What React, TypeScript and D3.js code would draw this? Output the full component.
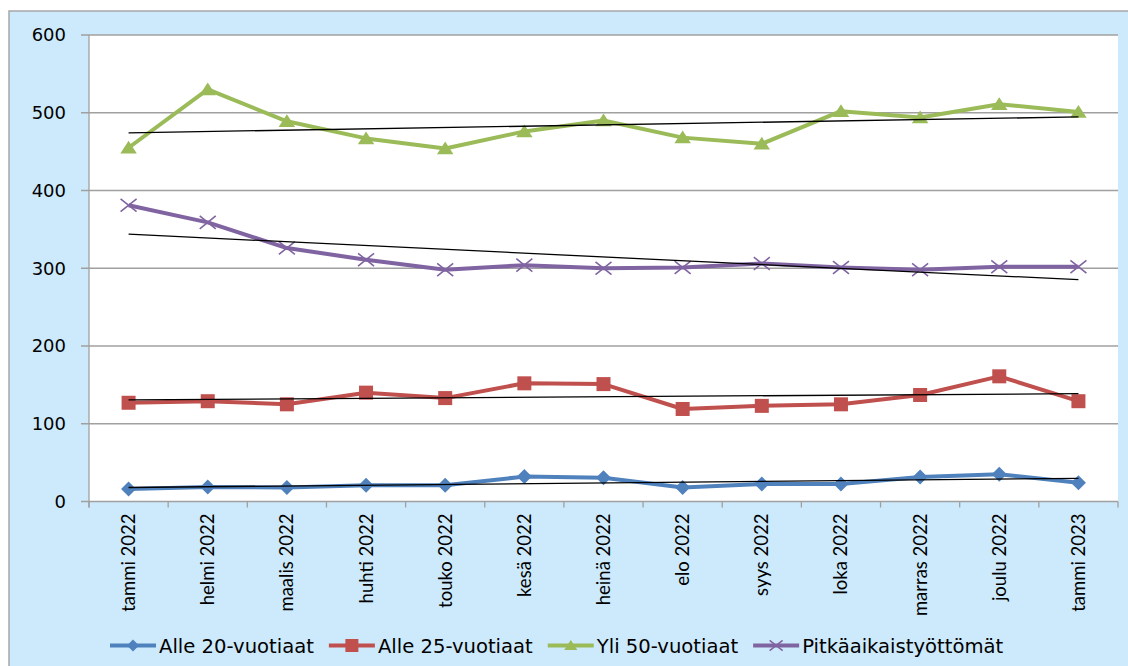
import React, { useEffect, useRef } from "react";
import * as d3 from "d3";

const months = [
  "tammi 2022", "helmi 2022", "maalis 2022", "huhti 2022", "touko 2022", "kesä 2022",
  "heinä 2022", "elo 2022", "syys 2022", "loka 2022", "marras 2022", "joulu 2022", "tammi 2023",
];
const alle20 = [16, 18.5, 18, 21, 21, 32, 30.5, 18, 22.5, 22.5, 31.5, 35, 24];
const alle25 = [127, 129, 125, 140, 133, 152, 151, 119, 123, 125, 137, 161, 129];
const yli50 = [455, 530, 489, 467, 454, 476, 490, 468, 460, 502, 494, 511, 501];
const pitka = [381, 359, 326, 311, 298, 304, 300, 301, 306, 301, 298, 302, 302];
const seriesNames = ["Alle 20-vuotiaat", "Alle 25-vuotiaat", "Yli 50-vuotiaat", "Pitkäaikaistyöttömät"];
const seriesColors = ["#4f81bd", "#c0504d", "#9bbb59", "#8064a2"];
const markerKinds = ["diamond", "square", "triangle", "x"];
const yTicks = [0, 100, 200, 300, 400, 500, 600];

const W = 1128;
const H = 666;
const plot = { left: 89, top: 35, right: 1118, bottom: 501.5 };

function drawMarker(g: any, kind: string, color: string, x: number, y: number, s: number) {
  if (kind === "diamond") {
    g.append("path")
      .attr("d", `M${x},${y - s}L${x + s},${y}L${x},${y + s}L${x - s},${y}Z`)
      .attr("fill", color);
  } else if (kind === "square") {
    g.append("rect")
      .attr("x", x - s).attr("y", y - s).attr("width", 2 * s).attr("height", 2 * s)
      .attr("fill", color);
  } else if (kind === "triangle") {
    const h = s * 1.7;
    g.append("path")
      .attr("d", `M${x},${y - h * 0.55}L${x + s * 1.1},${y + h * 0.45}L${x - s * 1.1},${y + h * 0.45}Z`)
      .attr("fill", color);
  } else {
    g.append("path")
      .attr("d", `M${x - s},${y - s * 0.8}L${x + s},${y + s * 0.8}M${x - s},${y + s * 0.8}L${x + s},${y - s * 0.8}`)
      .attr("stroke", color).attr("stroke-width", 1.6).attr("fill", "none");
  }
}

export default function App() {
  const ref = useRef<SVGSVGElement | null>(null);

  useEffect(() => {
    const svg = d3.select(ref.current);
    svg.selectAll("*").remove();

    // outer background box
    svg.append("rect").attr("x", 0).attr("y", 0).attr("width", W).attr("height", H).attr("fill", "#ffffff");
    svg.append("rect").attr("x", 9).attr("y", 11).attr("width", W).attr("height", H)
      .attr("fill", "#cdeafc").attr("stroke", "#a6a6a6").attr("stroke-width", 1.5);

    const x = d3.scaleBand<string>().domain(months).range([plot.left, plot.right]).padding(0);
    const y = d3.scaleLinear().domain([0, 600]).range([plot.bottom, plot.top]);
    const cx = (i: number) => (x(months[i]) as number) + x.bandwidth() / 2;

    svg.append("rect").attr("x", plot.left).attr("y", plot.top)
      .attr("width", plot.right - plot.left).attr("height", plot.bottom - plot.top).attr("fill", "#ffffff");

    // gridlines + y ticks
    const gy = svg.append("g");
    yTicks.forEach((t) => {
      gy.append("line").attr("x1", plot.left - 8).attr("x2", plot.right)
        .attr("y1", y(t)).attr("y2", y(t)).attr("stroke", "#a0a0a0").attr("stroke-width", 1.3);
      gy.append("text").attr("x", 66).attr("y", y(t)).attr("dy", "0.36em")
        .attr("text-anchor", "end").attr("font-family", "DejaVu Sans").attr("font-size", 18)
        .attr("fill", "#000").text(String(t));
    });
    // y axis line
    svg.append("line").attr("x1", plot.left).attr("x2", plot.left)
      .attr("y1", plot.top).attr("y2", plot.bottom + 6).attr("stroke", "#a0a0a0").attr("stroke-width", 1.3);
    // x ticks
    const bounds = months.map((m) => x(m) as number).concat([plot.right]);
    bounds.forEach((b) => {
      svg.append("line").attr("x1", b).attr("x2", b).attr("y1", plot.bottom).attr("y2", plot.bottom + 6)
        .attr("stroke", "#a0a0a0").attr("stroke-width", 1.3);
    });
    // x labels
    months.forEach((m, i) => {
      svg.append("text")
        .attr("transform", `translate(${cx(i)},${plot.bottom + 12}) rotate(-90)`)
        .attr("text-anchor", "end").attr("dy", "0.35em")
        .attr("font-family", "Lato, 'Open Sans', sans-serif").attr("font-size", 18.5).attr("fill", "#000")
        .text(m);
    });

    const data = [alle20, alle25, yli50, pitka];
    const line = d3.line<number>().x((_, i) => cx(i)).y((d) => y(d));

    data.forEach((vals, si) => {
      const g = svg.append("g");
      g.append("path").attr("d", line(vals)).attr("fill", "none")
        .attr("stroke", seriesColors[si]).attr("stroke-width", 4).attr("stroke-linejoin", "round");
      const ms = [7.5, 7, 7.5, 8][si];
      vals.forEach((v, i) => drawMarker(g, markerKinds[si], seriesColors[si], cx(i), y(v), ms));
    });

    // linear trend lines
    data.forEach((vals) => {
      const n = vals.length;
      const xs = vals.map((_, i) => i);
      const mx = d3.mean(xs) as number;
      const my = d3.mean(vals) as number;
      const num = d3.sum(vals.map((v, i) => (i - mx) * (v - my)));
      const den = d3.sum(xs.map((i) => (i - mx) * (i - mx)));
      const slope = num / den;
      const a = my - slope * mx;
      svg.append("line").attr("x1", cx(0)).attr("y1", y(a))
        .attr("x2", cx(n - 1)).attr("y2", y(a + slope * (n - 1)))
        .attr("stroke", "#000").attr("stroke-width", 1.3);
    });

    // legend
    const lg = svg.append("g");
    let lx = 110;
    const ly = 645.5;
    const lineLen = 46;
    seriesNames.forEach((name, si) => {
      lg.append("line").attr("x1", lx).attr("x2", lx + lineLen).attr("y1", ly).attr("y2", ly)
        .attr("stroke", seriesColors[si]).attr("stroke-width", 4);
      drawMarker(lg, markerKinds[si], seriesColors[si], lx + lineLen / 2, ly, [6, 6.5, 6, 6.5][si]);
      const t = lg.append("text")
        .attr("x", lx + lineLen + 3).attr("y", ly)
        .attr("dy", "0.36em")
        .attr("font-family", "'DejaVu Sans', sans-serif").attr("font-size", 19.6)
        .attr("fill", "#000").text(name);
      const w = (t.node() as SVGTextElement).getComputedTextLength();
      lx = lx + lineLen + 3 + w + 15;
    });
  }, []);

  return (
    <svg ref={ref} width={W} height={H} style={{ position: "absolute", left: 0, top: 0 }} />
  );
}
